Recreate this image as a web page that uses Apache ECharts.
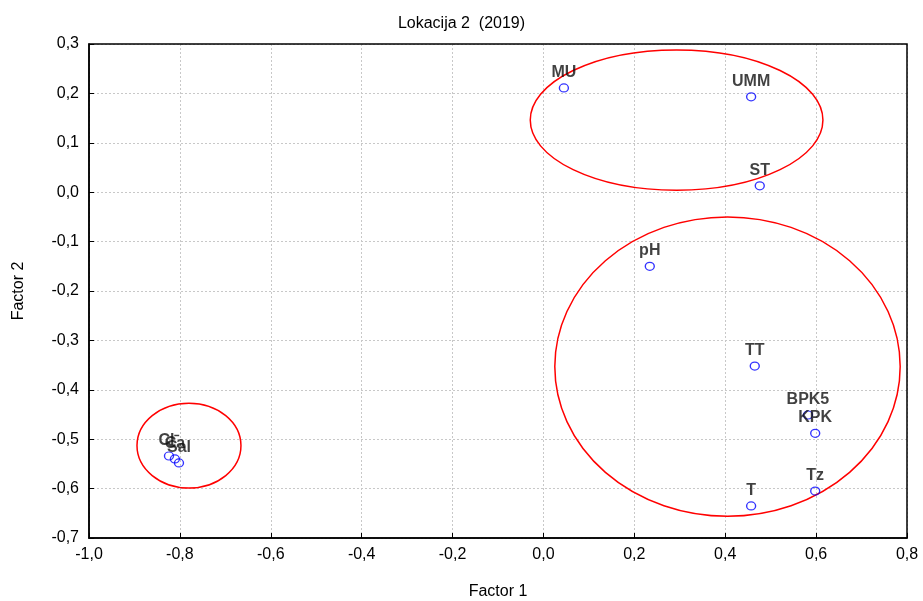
<!DOCTYPE html>
<html><head><meta charset="utf-8">
<script src="https://cdn.jsdelivr.net/npm/echarts@6/dist/echarts.min.js"></script>
<style>html,body{margin:0;padding:0;background:#fff}#c{width:923px;height:601px}</style>
</head><body><div id="c"></div>
<script>
const names = ['MU','UMM','ST','pH','TT','BPK5','KPK','Tz','T','Ca','Cl⁻','Sal'];
const factor1 = [0.045,0.457,0.476,0.234,0.465,0.582,0.598,0.598,0.457,-0.811,-0.824,-0.802];
const factor2 = [0.211,0.193,0.013,-0.150,-0.352,-0.451,-0.488,-0.605,-0.635,-0.540,-0.534,-0.548];
// ellipses: centre x, centre y, radius x, radius y (data units)
const ellCx = [0.293, 0.405, -0.780];
const ellCy = [0.146, -0.353, -0.513];
const ellRx = [0.322, 0.380, 0.1144];
const ellRy = [0.142, 0.303, 0.086];

const font = 'Liberation Sans, Arial, sans-serif';
const chart = echarts.init(document.getElementById('c'), null, {renderer:'canvas'});
const pts = names.map((n,i)=>({name:n, value:[factor1[i], factor2[i]]}));
const ells = ellCx.map((c,i)=>[c, ellCy[i], ellRx[i], ellRy[i]]);
const fmt = v => v.toFixed(1).replace('.', ',').replace('-0,0','0,0');
chart.setOption({
  animation:false,
  title:{text:'Lokacija 2  (2019)', left:'center', top:11, textStyle:{fontFamily:font, fontSize:16, fontWeight:'normal', color:'#000'}},
  grid:{left:89, right:16, top:44, bottom:63, containLabel:false, outerBoundsMode:'none'},
  xAxis:{type:'value', min:-1, max:0.8, interval:0.2, name:'Factor 1', nameLocation:'middle', nameGap:46,
    nameTextStyle:{fontFamily:font, fontSize:16, color:'#000'},
    axisLine:{onZero:false, lineStyle:{color:'#000', width:1.5}},
    axisTick:{inside:true, length:5, lineStyle:{color:'#000'}},
    axisLabel:{fontFamily:font, fontSize:16, color:'#000', margin:9, formatter:fmt},
    splitLine:{show:true, lineStyle:{color:'#c8c8c8', type:[2,2], width:1}}},
  yAxis:{type:'value', min:-0.7, max:0.3, interval:0.1, name:'Factor 2', nameLocation:'middle', nameGap:62,
    nameTextStyle:{fontFamily:font, fontSize:16, color:'#000'},
    axisLine:{onZero:false, lineStyle:{color:'#000', width:1.5}},
    axisTick:{inside:true, length:5, lineStyle:{color:'#000'}},
    axisLabel:{fontFamily:font, fontSize:16, color:'#000', margin:10, formatter:fmt},
    splitLine:{show:true, lineStyle:{color:'#c8c8c8', type:[2,2], width:1}}},
  series:[
    {type:'custom', data:ells, silent:true, z:1,
     renderItem:(params, api)=>{
       const c = api.coord([api.value(0), api.value(1)]);
       const s = api.size([api.value(2), api.value(3)]);
       const rx = s[0], ry = s[1];
       const d = `M ${c[0]-rx} ${c[1]} A ${rx} ${ry} 0 1 0 ${c[0]+rx} ${c[1]} A ${rx} ${ry} 0 1 0 ${c[0]-rx} ${c[1]} Z`;
       return {type:'path', shape:{pathData:d}, style:{fill:'none', stroke:'#ff0000', lineWidth:1.5}};
     }},
    {type:'scatter', data:pts, symbol:'circle', symbolSize:[9,8], z:3,
     itemStyle:{color:'rgba(0,0,0,0)', borderColor:'#0000ff', borderWidth:1.3},
     label:{show:true, position:'top', distance:3, formatter:'{b}', fontFamily:font, fontSize:16, fontWeight:'bold', color:'#111'}}
  ]
});
// box border top & right
const tl = chart.convertToPixel({gridIndex:0},[-1,0.3]);
const br = chart.convertToPixel({gridIndex:0},[0.8,-0.7]);
chart.setOption({graphic:[{type:'rect', shape:{x:tl[0], y:tl[1], width:br[0]-tl[0], height:br[1]-tl[1]}, style:{fill:'none', stroke:'#000', lineWidth:1.5}, silent:true, z:0}]});
</script></body></html>
